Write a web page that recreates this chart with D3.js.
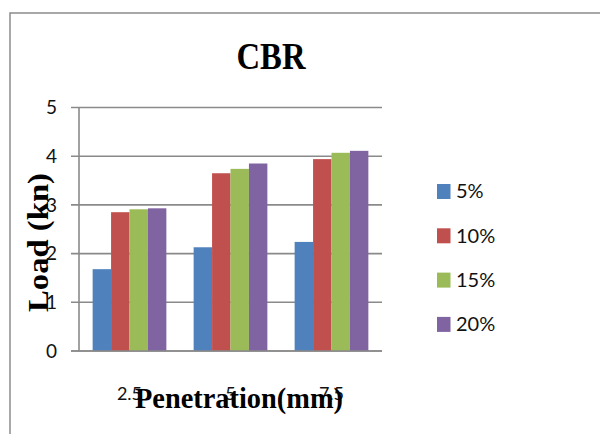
<!DOCTYPE html>
<html>
<head>
<meta charset="utf-8">
<script src="https://cdn.jsdelivr.net/npm/d3@7"></script>
<style>
  html, body { margin: 0; padding: 0; background: #fff; }
  svg { display: block; }
</style>
</head>
<body>
<svg id="chart" width="600" height="434"></svg>
<script>
// CBR test: load vs penetration for four mix percentages
const categories = ["2.5", "5", "7.5"];
const seriesNames = ["5%", "10%", "15%", "20%"];
const seriesValues = [
  [1.68, 2.13, 2.24],   // 5%
  [2.85, 3.65, 3.94],   // 10%
  [2.91, 3.74, 4.07],   // 15%
  [2.93, 3.85, 4.11]    // 20%
];
const yTicks = [0, 1, 2, 3, 4, 5];
const colors = ["#4F81BD", "#C0504D", "#9BBB59", "#8064A2"];

const svg = d3.select("#chart");
const sansFont = "Lato, 'Open Sans', sans-serif";
const serifFont = "'Liberation Serif', 'Times New Roman', serif";

// outer chart frame
svg.append("rect")
  .attr("x", 10).attr("y", 13)
  .attr("width", 620).attr("height", 440)
  .attr("fill", "#fff").attr("stroke", "#8c8c8c").attr("stroke-width", 1.5);

const plot = { left: 79, right: 382, top: 107.5, bottom: 351 };

const x0 = d3.scaleBand().domain(categories)
  .range([plot.left, plot.right]).paddingInner(0.27).paddingOuter(0.135);
const x1 = d3.scaleBand().domain(seriesNames)
  .range([0, x0.bandwidth()]).padding(0);
const y = d3.scaleLinear().domain([0, 5]).range([plot.bottom, plot.top]);

// horizontal gridlines
svg.append("g").selectAll("line").data(yTicks).join("line")
  .attr("x1", plot.left - 8).attr("x2", plot.right)
  .attr("y1", d => y(d)).attr("y2", d => y(d))
  .attr("stroke", "#8a8a8a").attr("stroke-width", 1.6);

// bars
const table = categories.map((c, i) => ({
  cat: c,
  values: seriesNames.map((s, j) => ({ s, v: seriesValues[j][i], j }))
}));
svg.append("g").selectAll("g").data(table).join("g")
  .attr("transform", d => `translate(${x0(d.cat)},0)`)
  .selectAll("rect").data(d => d.values).join("rect")
  .attr("x", d => x1(d.s))
  .attr("width", x1.bandwidth())
  .attr("y", d => y(d.v))
  .attr("height", d => y(0) - y(d.v))
  .attr("fill", d => colors[d.j]);

// y axis line
svg.append("line")
  .attr("x1", plot.left).attr("x2", plot.left)
  .attr("y1", plot.top).attr("y2", plot.bottom)
  .attr("stroke", "#8a8a8a").attr("stroke-width", 1.6);
// baseline redrawn above bars
svg.append("line")
  .attr("x1", plot.left - 8).attr("x2", plot.right)
  .attr("y1", y(0)).attr("y2", y(0))
  .attr("stroke", "#8a8a8a").attr("stroke-width", 1.6);

// y tick labels
svg.append("g").selectAll("text").data(yTicks).join("text")
  .attr("x", 57).attr("y", d => y(d))
  .attr("dy", "0.36em")
  .attr("text-anchor", "end")
  .attr("font-family", sansFont).attr("font-size", 19)
  .attr("fill", "#111")
  .text(d => d);

// x tick labels
svg.append("g").selectAll("text").data(categories).join("text")
  .attr("x", d => x0(d) + x0.bandwidth() / 2).attr("y", 400)
  .attr("text-anchor", "middle")
  .attr("font-family", sansFont).attr("font-size", 18)
  .attr("fill", "#111")
  .text(d => d);

// title
svg.append("text")
  .attr("x", 271).attr("y", 69)
  .attr("text-anchor", "middle")
  .attr("font-family", serifFont).attr("font-weight", "bold")
  .attr("font-size", 37)
  .attr("textLength", 69).attr("lengthAdjust", "spacingAndGlyphs")
  .text("CBR");

// x axis title
svg.append("text")
  .attr("x", 239).attr("y", 408)
  .attr("text-anchor", "middle")
  .attr("font-family", serifFont).attr("font-weight", "bold")
  .attr("font-size", 30)
  .attr("textLength", 208).attr("lengthAdjust", "spacingAndGlyphs")
  .text("Penetration(mm)");

// y axis title
svg.append("text")
  .attr("transform", "translate(48,242.5) rotate(-90)")
  .attr("text-anchor", "middle")
  .attr("font-family", serifFont).attr("font-weight", "bold")
  .attr("font-size", 30)
  .attr("textLength", 139).attr("lengthAdjust", "spacingAndGlyphs")
  .text("Load (kn)");

// legend
const legend = svg.append("g").selectAll("g").data(seriesNames).join("g")
  .attr("transform", (d, i) => `translate(437,${191 + i * 44.3})`);
legend.append("rect")
  .attr("x", 0).attr("y", -7).attr("width", 13.5).attr("height", 15)
  .attr("fill", (d, i) => colors[i]);
legend.append("text")
  .attr("x", 19).attr("y", 0).attr("dy", "0.36em")
  .attr("font-family", sansFont).attr("font-size", 20)
  .attr("fill", "#111")
  .text(d => d);
</script>
</body>
</html>
